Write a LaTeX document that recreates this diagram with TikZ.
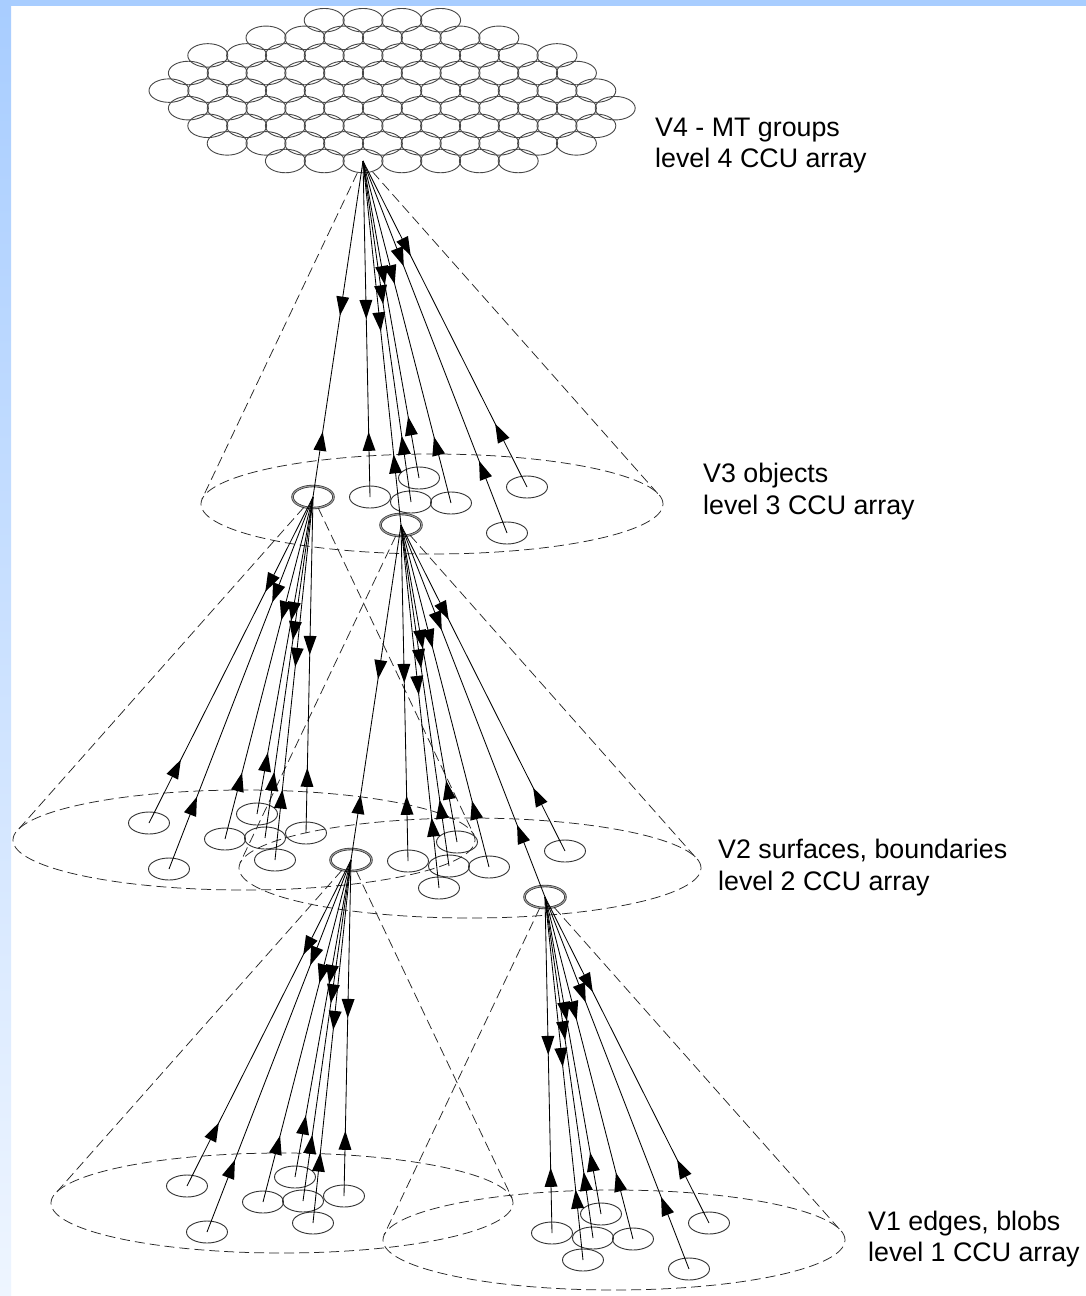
\documentclass[tikz,border=0pt]{standalone}
\usepackage{fontspec}
\setmainfont{Liberation Sans}
\usetikzlibrary{shapes.geometric,decorations.markings}
\definecolor{stripblue}{HTML}{A8CDFF}
\definecolor{stripfade}{HTML}{EEF5FF}
\definecolor{cellline}{HTML}{333333}
\tikzset{
  cell/.style={shape=ellipse, draw=cellline, line width=0.9pt, minimum width=41pt, minimum height=22pt, inner sep=0pt},
  hexcell/.style={cell, draw=black!72, minimum width=40pt, minimum height=23.5pt},
  hub/.style={cell, draw=black!85, line width=0.6pt, double=black!40, double distance=1.2pt},
  field/.style={draw=black!85, line width=0.75pt, dash pattern=on 10pt off 5pt},
  basin/.style={field, shape=ellipse, minimum width=462pt, minimum height=100pt, inner sep=0pt},
  conn/.style={draw=black, line width=0.85pt, postaction={decorate},
    decoration={markings,
      mark=at position #1 with {\fill[black] (0pt,0pt) -- (-19pt,6.5pt) -- (-19pt,-6.5pt) -- cycle;},
      mark=at position 0.806 with {\fill[black] (0pt,0pt) -- (19pt,6.5pt) -- (19pt,-6.5pt) -- cycle;}}},
  lbl/.style={anchor=base west, inner sep=0pt, font=\fontsize{26.8}{31}\selectfont}
}
\newcommand\ccucell[4]{\node[#4] (#2) at ([shift={(#3)}]#1.center) {};}
\newcommand\ccuedge[3]{\draw[conn=#3] (#1.center) -- (#2.center);}
\begin{document}
\begin{tikzpicture}[x=1pt,y=-1pt]
\useasboundingbox (0,0) rectangle (1086,1296);
\fill[white] (0,0) rectangle (1086,1296);
\shade[top color=stripblue, bottom color=stripfade] (0,0) rectangle (11,1296);
\fill[stripblue] (0,0) rectangle (1086,6);

% level 4: hexagonal array of cells
\foreach \row/\xo/\cnt in {1/324.2/4, 2/266/7, 3/207.8/10, 4/188.4/11, 5/169/12,
                           6/188.4/12, 7/207.8/11, 8/227.2/10, 9/285.4/7} {
  \foreach \i in {1,...,\cnt} {
    \pgfmathtruncatemacro\hexskip{(\row==9)&&(\i==3)}
    \ifnum\hexskip=0
      \node[hexcell] (h-\row-\i) at ({\xo+38.8*(\i-1)},{161-17.6*(9-\row)}) {};
    \fi
  }
}
\node[hexcell] (a1) at (363,161) {};

% level 3 cells (fed by a1)
\ccucell{a1}{a2}{-50,336}{hub}
\ccucell{a1}{c1b}{7,336}{cell}
\ccucell{a1}{a3}{38,364}{hub}
\ccucell{a1}{c1d}{48,341}{cell}
\ccucell{a1}{c1e}{56,317}{cell}
\ccucell{a1}{c1f}{88,342}{cell}
\ccucell{a1}{c1g}{144,372}{cell}
\ccucell{a1}{c1h}{164,326}{cell}

% level 2 cells, left field (fed by a2)
\ccucell{a2}{c2b}{-7,336}{cell}
\ccucell{a2}{c2c}{-38,363}{cell}
\ccucell{a2}{c2d}{-48,341}{cell}
\ccucell{a2}{c2e}{-56,317}{cell}
\ccucell{a2}{c2f}{-88,342}{cell}
\ccucell{a2}{c2g}{-144,372}{cell}
\ccucell{a2}{c2h}{-164,326}{cell}

% level 2 cells, right field (fed by a3)
\ccucell{a3}{a4}{-50,335}{hub}
\ccucell{a3}{c3b}{7,336}{cell}
\ccucell{a3}{c3c}{38,363}{cell}
\ccucell{a3}{c3d}{48,341}{cell}
\ccucell{a3}{c3e}{56,317}{cell}
\ccucell{a3}{c3f}{88,342}{cell}
\ccucell{a3}{a5}{144,372}{hub}
\ccucell{a3}{c3h}{164,326}{cell}

% level 1 cells, left field (fed by a4)
\ccucell{a4}{c4b}{-7,336}{cell}
\ccucell{a4}{c4c}{-38,363}{cell}
\ccucell{a4}{c4d}{-48,341}{cell}
\ccucell{a4}{c4e}{-56,317}{cell}
\ccucell{a4}{c4f}{-88,342}{cell}
\ccucell{a4}{c4g}{-144,372}{cell}
\ccucell{a4}{c4h}{-164,326}{cell}

% level 1 cells, right field (fed by a5)
\ccucell{a5}{c5b}{7,336}{cell}
\ccucell{a5}{c5c}{38,363}{cell}
\ccucell{a5}{c5d}{48,341}{cell}
\ccucell{a5}{c5e}{56,317}{cell}
\ccucell{a5}{c5f}{88,342}{cell}
\ccucell{a5}{c5g}{144,372}{cell}
\ccucell{a5}{c5h}{164,326}{cell}

% receptive fields: dashed base ellipses and cone outlines
\node[basin] (f1) at ([shift={(69,343)}]a1.center) {};
\node[basin] (f2) at ([shift={(-69,343)}]a2.center) {};
\node[basin] (f3) at ([shift={(69,343)}]a3.center) {};
\node[basin] (f4) at ([shift={(-69,343)}]a4.center) {};
\node[basin] (f5) at ([shift={(69,343)}]a5.center) {};
\coordinate (t1l) at ([shift={(-161,338)}]a1.center);
\coordinate (t1r) at ([shift={(296,334)}]a1.center);
\coordinate (t2l) at ([shift={(-296,334)}]a2.center);
\coordinate (t2r) at ([shift={(161,338)}]a2.center);
\coordinate (t3l) at ([shift={(-161,338)}]a3.center);
\coordinate (t3r) at ([shift={(296,334)}]a3.center);
\coordinate (t4l) at ([shift={(-296,334)}]a4.center);
\coordinate (t4r) at ([shift={(161,338)}]a4.center);
\coordinate (t5l) at ([shift={(-161,338)}]a5.center);
\coordinate (t5r) at ([shift={(296,334)}]a5.center);
\foreach \k in {1,...,5} {
  \draw[field] (a\k) -- (t\k l);
  \draw[field] (a\k) -- (t\k r);
}

% feed-forward / feedback connections
\ccuedge{a1}{a2}{0.46}
\ccuedge{a1}{c1b}{0.47}
\ccuedge{a1}{a3}{0.468}
\ccuedge{a1}{c1d}{0.42}
\ccuedge{a1}{c1e}{0.391}
\ccuedge{a1}{c1f}{0.36}
\ccuedge{a1}{c1g}{0.283}
\ccuedge{a1}{c1h}{0.291}

\ccuedge{a2}{c2b}{0.47}
\ccuedge{a2}{c2c}{0.468}
\ccuedge{a2}{c2d}{0.42}
\ccuedge{a2}{c2e}{0.391}
\ccuedge{a2}{c2f}{0.36}
\ccuedge{a2}{c2g}{0.283}
\ccuedge{a2}{c2h}{0.291}

\ccuedge{a3}{a4}{0.46}
\ccuedge{a3}{c3b}{0.47}
\ccuedge{a3}{c3c}{0.468}
\ccuedge{a3}{c3d}{0.42}
\ccuedge{a3}{c3e}{0.391}
\ccuedge{a3}{c3f}{0.36}
\ccuedge{a3}{a5}{0.283}
\ccuedge{a3}{c3h}{0.291}

\ccuedge{a4}{c4b}{0.47}
\ccuedge{a4}{c4c}{0.468}
\ccuedge{a4}{c4d}{0.42}
\ccuedge{a4}{c4e}{0.391}
\ccuedge{a4}{c4f}{0.36}
\ccuedge{a4}{c4g}{0.283}
\ccuedge{a4}{c4h}{0.291}

\ccuedge{a5}{c5b}{0.47}
\ccuedge{a5}{c5c}{0.468}
\ccuedge{a5}{c5d}{0.42}
\ccuedge{a5}{c5e}{0.391}
\ccuedge{a5}{c5f}{0.36}
\ccuedge{a5}{c5g}{0.283}
\ccuedge{a5}{c5h}{0.291}

% level labels
\node[lbl] (l4a) at (655,136) {V4 - MT groups};
\node[lbl] (l4b) at (655,167) {level 4 CCU array};
\node[lbl] (l3a) at (703,482) {V3 objects};
\node[lbl] (l3b) at (703,514) {level 3 CCU array};
\node[lbl] (l2a) at (718,858) {V2 surfaces, boundaries};
\node[lbl] (l2b) at (718,890) {level 2 CCU array};
\node[lbl] (l1a) at (868,1230) {V1 edges, blobs};
\node[lbl] (l1b) at (868,1261) {level 1 CCU array};
\end{tikzpicture}
\end{document}
